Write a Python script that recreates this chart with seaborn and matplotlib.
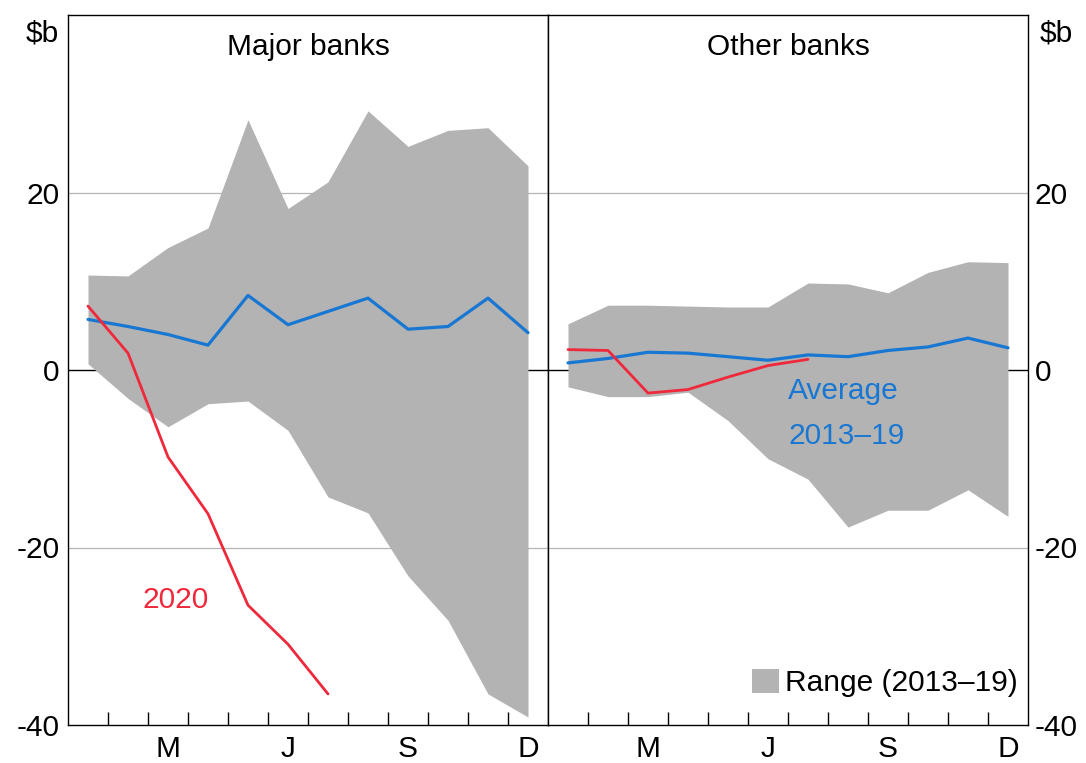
import numpy as np
import pandas as pd
import seaborn as sns
import matplotlib.pyplot as plt

# =========================
# Data ($b)
# =========================
months = ["Jan", "Feb", "Mar", "Apr", "May", "Jun",
          "Jul", "Aug", "Sep", "Oct", "Nov", "Dec"]
month_labels = ["M", "J", "S", "D"]

major_high = [10.7, 10.6, 13.8, 16.0, 28.2, 18.2, 21.2, 29.2, 25.2, 27.0, 27.3, 23.0]
major_low = [0.7, -3.2, -6.4, -3.8, -3.5, -6.8, -14.3, -16.1, -23.2, -28.2, -36.5, -39.1]
major_avg = [5.7, 4.9, 4.0, 2.8, 8.4, 5.1, 6.6, 8.1, 4.6, 4.9, 8.1, 4.2]
major_2020 = [7.2, 1.9, -9.8, -16.2, -26.5, -30.9, -36.5]

other_high = [5.2, 7.3, 7.3, 7.2, 7.1, 7.1, 9.8, 9.7, 8.7, 11.0, 12.2, 12.1]
other_low = [-1.9, -3.0, -3.0, -2.5, -5.7, -10.0, -12.3, -17.7, -15.8, -15.8, -13.5, -16.5]
other_avg = [0.8, 1.3, 2.0, 1.9, 1.5, 1.1, 1.7, 1.5, 2.2, 2.6, 3.6, 2.5]
other_2020 = [2.3, 2.2, -2.6, -2.2, -0.8, 0.5, 1.2]

BLUE = "#1877d2"
RED = "#f0283c"
GREY = "#b3b3b3"
FS = 21.5

sns.set_theme(style="white")
plt.rcParams["font.family"] = ["Liberation Sans", "DejaVu Sans"]
plt.rcParams["text.color"] = "black"
plt.rcParams["xtick.color"] = "black"
plt.rcParams["ytick.color"] = "black"
plt.rcParams["xtick.labelcolor"] = "black"
plt.rcParams["ytick.labelcolor"] = "black"

# month index -> middle of each month slot
pos = np.arange(len(months)) + 0.5

fig, (ax1, ax2) = plt.subplots(1, 2, figsize=(10.86, 7.63), dpi=100, sharey=True)
fig.subplots_adjust(left=68 / 1086, right=1028 / 1086, bottom=1 - 725 / 763,
                    top=1 - 15 / 763, wspace=0)

panels = [
    (ax1, "Major banks", major_high, major_low, major_avg, major_2020),
    (ax2, "Other banks", other_high, other_low, other_avg, other_2020),
]

for ax, title, hi, lo, avg, y2020 in panels:
    ax.set_facecolor("white")
    for g in (20, -20):
        ax.axhline(g, color="#b5b5b5", lw=0.9, zorder=0)
    ax.axhline(0, color="black", lw=1.0, zorder=0.5)

    ax.fill_between(pos, lo, hi, color=GREY, lw=0, zorder=1)

    df_avg = pd.DataFrame({"x": pos, "y": avg})
    df_20 = pd.DataFrame({"x": pos[:len(y2020)], "y": y2020})
    sns.lineplot(data=df_avg, x="x", y="y", ax=ax, color=BLUE, lw=2.3,
                 sort=False, zorder=3, legend=False)
    sns.lineplot(data=df_20, x="x", y="y", ax=ax, color=RED, lw=2.0,
                 sort=False, zorder=4, legend=False)

    ax.set_xlim(0, 12)
    ax.set_ylim(-40, 40)
    ax.set_xlabel("")
    ax.set_ylabel("")

    ax.set_xticks(np.arange(1, 12))
    ax.set_xticklabels([])
    ax.set_xticks([2.5, 5.5, 8.5, 11.5], minor=True)
    ax.set_xticklabels(month_labels, minor=True, fontsize=FS)
    ax.tick_params(axis="x", which="major", direction="in", length=9.5, width=1.0,
                   color="black", bottom=True)
    ax.tick_params(axis="x", which="minor", length=0, pad=7, bottom=True)

    for s in ax.spines.values():
        s.set_color("black")
        s.set_linewidth(1.0)
        s.set_visible(True)

    ax.text(0.5, 1 - 40 / 710, title, transform=ax.transAxes, ha="center",
            va="baseline", fontsize=FS, color="black")

yt = [-40, -20, 0, 20]
ax1.set_yticks(yt)
ax1.set_yticklabels([str(v) for v in yt], fontsize=FS)
ax1.tick_params(axis="y", length=0, pad=6, left=True)

ax2.yaxis.tick_right()
ax2.tick_params(axis="y", length=0, pad=5, right=True, labelright=True,
                labelleft=False, labelsize=FS)

# annotations
ax1.text(2.7, -25.9, "2020", color=RED, fontsize=FS, ha="center", va="center")
ax2.text(6.0, -2.4, "Average", color=BLUE, fontsize=FS, ha="left", va="center")
ax2.text(6.0, -7.4, "2013–19", color=BLUE, fontsize=FS, ha="left", va="center")

ax2.fill_between([], [], [], color=GREY, lw=0, label="Range (2013–19)")
leg = ax2.legend(loc="lower right", bbox_to_anchor=(1 - 10 / 480, 28 / 710),
                 frameon=False, fontsize=FS, handlelength=0.9, handleheight=0.85,
                 handletextpad=0.2, borderpad=0, borderaxespad=0)
for t in leg.get_texts():
    t.set_color("black")

fig.text(42 / 1086, 1 - 42 / 763, "$b", fontsize=FS, ha="center", va="baseline",
         color="black")
fig.text(1056 / 1086, 1 - 42 / 763, "$b", fontsize=FS, ha="center", va="baseline",
         color="black")

fig.savefig("out.png", dpi=100)
